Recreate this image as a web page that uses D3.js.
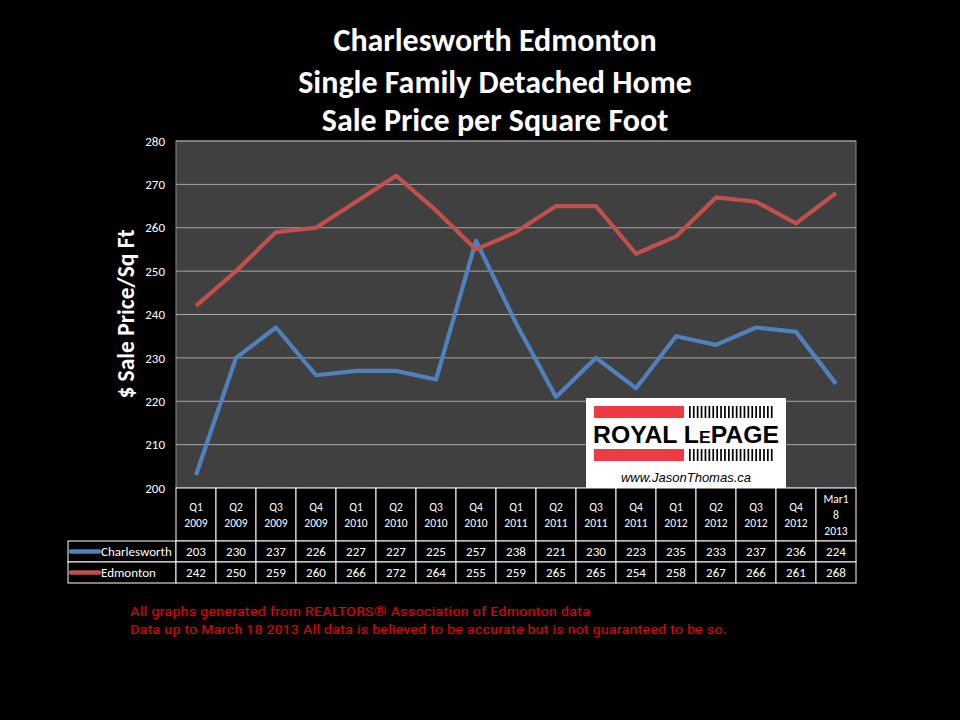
<!DOCTYPE html>
<html><head><meta charset="utf-8">
<script src="https://cdn.jsdelivr.net/npm/d3@7"></script>
<style>body{margin:0;background:#000;} svg{display:block;}</style>
</head><body>
<svg id="c" width="960" height="720"></svg>
<script>
const categories = [["Q1","2009"],["Q2","2009"],["Q3","2009"],["Q4","2009"],["Q1","2010"],["Q2","2010"],["Q3","2010"],["Q4","2010"],["Q1","2011"],["Q2","2011"],["Q3","2011"],["Q4","2011"],["Q1","2012"],["Q2","2012"],["Q3","2012"],["Q4","2012"],["Mar1","8","2013"]];
const charlesworth = [203,230,237,226,227,227,225,257,238,221,230,223,235,233,237,236,224];
const edmonton = [242,250,259,260,266,272,264,255,259,265,265,254,258,267,266,261,268];
const seriesNames = ["Charlesworth","Edmonton"];
const yTicks = [200,210,220,230,240,250,260,270,280];
const titleLines = ["Charlesworth Edmonton","Single Family Detached Home","Sale Price per Square Foot"];

const svg = d3.select("#c");
const L = 176, R = 856, T = 141, B = 488;
const colors = ["#4f81bd","#c0504d"];
const font = "Calibri, Carlito, 'Open Sans', 'Liberation Sans', sans-serif";

const x = d3.scaleBand().domain(d3.range(categories.length)).range([L,R]);
const y = d3.scaleLinear().domain([200,280]).range([B,T]);

// title
svg.append("g").selectAll("text").data(titleLines).join("text")
  .attr("x",495).attr("y",(d,i)=>[51,93,131][i]).attr("text-anchor","middle")
  .attr("fill","#fff").attr("font-family",font).attr("font-weight","bold").attr("font-size",32)
  .text(d=>d);

// plot bg
svg.append("rect").attr("x",L).attr("y",T).attr("width",R-L).attr("height",B-T)
  .attr("fill","#404040").attr("stroke","#8a8a8a").attr("stroke-width",1);

// grid
svg.append("g").selectAll("line").data(yTicks.slice(1)).join("line")
  .attr("x1",L).attr("x2",R).attr("y1",d=>y(d)).attr("y2",d=>y(d))
  .attr("stroke","#a6a6a6").attr("stroke-width",1);

// y axis
const ya = svg.append("g").attr("transform",`translate(${L},0)`)
  .call(d3.axisLeft(y).tickValues(yTicks).tickSize(0).tickPadding(11));
ya.select(".domain").remove();
ya.selectAll("text").attr("fill","#fff").attr("font-family",font).attr("font-size",13);

svg.append("text").attr("transform","translate(134,314) rotate(-90)").attr("text-anchor","middle")
  .attr("fill","#fff").attr("font-family",font).attr("font-weight","bold").attr("font-size",23.5)
  .text("$ Sale Price/Sq Ft");

// lines
const line = d3.line().x((d,i)=>x(i)+x.bandwidth()/2).y(d=>y(d));
[charlesworth,edmonton].forEach((s,k)=>{
  svg.append("path").datum(s).attr("d",line).attr("fill","none")
    .attr("stroke",colors[k]).attr("stroke-width",4.2).attr("stroke-linejoin","round");
});

// logo
const lg = svg.append("g").attr("transform","translate(586,398)");
lg.append("rect").attr("width",200).attr("height",90).attr("fill","#fff");
lg.append("rect").attr("x",8).attr("y",8).attr("width",90).attr("height",12).attr("fill","#ee3a43");
lg.append("rect").attr("x",8).attr("y",51).attr("width",90).attr("height",12).attr("fill","#ee3a43");
const bars = d3.range(22);
[8,51].forEach(yy=>{
  lg.append("g").selectAll("rect").data(bars).join("rect")
    .attr("x",d=>103+d*3.9).attr("y",yy).attr("width",1.7).attr("height",12).attr("fill","#000");
});
lg.append("text").attr("x",100).attr("y",45).attr("text-anchor","middle")
  .attr("font-family","'Liberation Sans', Arial, sans-serif").attr("font-weight","bold").attr("font-size",24)
  .attr("fill","#000").attr("textLength",186).attr("lengthAdjust","spacingAndGlyphs")
  .html('ROYAL L<tspan font-size="17">E</tspan>PAGE');
lg.append("text").attr("x",100).attr("y",84).attr("text-anchor","middle")
  .attr("font-family","'Liberation Sans', Arial, sans-serif").attr("font-style","italic").attr("font-size",13)
  .attr("fill","#000").text("www.JasonThomas.ca");

// table
const tb = svg.append("g");
const rowTop = 488, rowH1 = 541, rowH2 = 562, rowEnd = 583, TL = 68;
const stroke = "#fff";
// header cells
tb.append("g").selectAll("rect").data(categories).join("rect")
  .attr("x",(d,i)=>x(i)).attr("y",rowTop).attr("width",x.bandwidth()).attr("height",rowH1-rowTop)
  .attr("fill","#000").attr("stroke",stroke).attr("stroke-width",1);
tb.append("g").selectAll("text").data(categories).join("text")
  .attr("x",(d,i)=>x(i)+x.bandwidth()/2).attr("text-anchor","middle")
  .attr("fill","#fff").attr("font-family",font).attr("font-size",11.5)
  .each(function(d){
    const t = d3.select(this);
    const ys = d.length===2 ? [511,527] : [503,519,535];
    d.forEach((s,j)=>t.append("tspan").attr("x",t.attr("x")).attr("y",ys[j]).text(s));
  });
// series rows
[charlesworth,edmonton].forEach((s,k)=>{
  const y0 = k===0?rowH1:rowH2, h = (k===0?rowH2:rowEnd)-y0;
  tb.append("rect").attr("x",TL).attr("y",y0).attr("width",L-TL).attr("height",h)
    .attr("fill","#000").attr("stroke",stroke);
  tb.append("line").attr("x1",TL+3).attr("x2",TL+31).attr("y1",y0+h/2).attr("y2",y0+h/2)
    .attr("stroke",colors[k]).attr("stroke-width",4.5).attr("stroke-linecap","round");
  tb.append("text").attr("x",TL+33).attr("y",y0+h/2+4.5).attr("fill","#fff")
    .attr("font-family",font).attr("font-size",13).text(seriesNames[k]);
  tb.append("g").selectAll("rect").data(s).join("rect")
    .attr("x",(d,i)=>x(i)).attr("y",y0).attr("width",x.bandwidth()).attr("height",h)
    .attr("fill","#000").attr("stroke",stroke);
  tb.append("g").selectAll("text").data(s).join("text")
    .attr("x",(d,i)=>x(i)+x.bandwidth()/2).attr("y",y0+h/2+4.5).attr("text-anchor","middle")
    .attr("fill","#fff").attr("font-family",font).attr("font-size",13).text(d=>d);
});

// footer
const foot = ["All graphs generated from REALTORS\u00AE Association of Edmonton data",
  "Data up to  March  18 2013  All data is believed to be accurate but is not guaranteed to be so."];
svg.append("g").selectAll("text").data(foot).join("text")
  .attr("x",130).attr("y",(d,i)=>616+i*18).attr("fill","#e00000")
  .attr("font-family","'Liberation Sans Narrow', 'Roboto Condensed', 'DejaVu Sans Condensed', sans-serif").attr("font-size",12.5)
  .attr("textLength",(d,i)=>i===0?460:597).attr("lengthAdjust","spacingAndGlyphs")
  .text(d=>d);
</script>
</body></html>
